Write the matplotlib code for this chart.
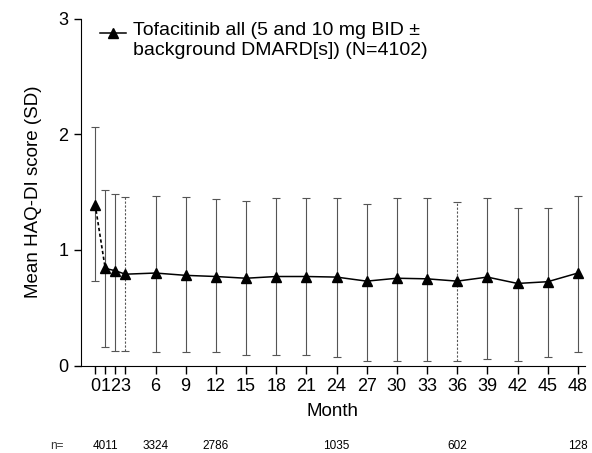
import numpy as np
import matplotlib.pyplot as plt

plt.rcParams['font.family'] = ['Liberation Sans', 'DejaVu Sans']

# HAQ-DI over time
months = [0, 1, 2, 3, 6, 9, 12, 15, 18, 21, 24, 27, 30, 33, 36, 39, 42, 45, 48]
mean_haq = [1.39, 0.84, 0.82, 0.79, 0.80, 0.78, 0.77, 0.755, 0.77, 0.77, 0.765,
            0.73, 0.755, 0.75, 0.73, 0.765, 0.71, 0.725, 0.80]
sd_low = [0.73, 0.16, 0.13, 0.13, 0.12, 0.12, 0.12, 0.09, 0.09, 0.09, 0.07,
          0.04, 0.04, 0.04, 0.04, 0.06, 0.04, 0.07, 0.12]
sd_high = [2.06, 1.52, 1.48, 1.46, 1.47, 1.46, 1.44, 1.42, 1.45, 1.45, 1.45,
           1.40, 1.45, 1.45, 1.41, 1.45, 1.36, 1.36, 1.47]
dashed_bars = [3, 36]

n_months = [1, 6, 12, 24, 36, 48]
n_values = ['4011', '3324', '2786', '1035', '602', '128']

legend_label = 'Tofacitinib all (5 and 10 mg BID \u00b1\nbackground DMARD[s]) (N=4102)'

fig = plt.figure(figsize=(5.92, 4.53), dpi=100)
ax = fig.add_axes([0.137, 0.193, 0.851, 0.766])

m = np.array(mean_haq)
yerr = [m - np.array(sd_low), np.array(sd_high) - m]
eb = ax.errorbar(months, m, yerr=yerr, fmt='none', ecolor='#555555',
                 elinewidth=0.8, capsize=3, capthick=0.8, zorder=1)
ls = [(0, (2, 1.5)) if mo in dashed_bars else 'solid' for mo in months]
eb[2][0].set_linestyles(ls)

ax.plot(months[:2], mean_haq[:2], color='black', lw=1.2, ls=(0, (2, 1.5)), zorder=2)
ax.plot(months[1:], mean_haq[1:], color='black', lw=1.1, zorder=2)
ax.plot(months, mean_haq, ls='none', marker='^', ms=7.5, color='black', zorder=3)

# legend glyph and text
ax.plot([0.038, 0.089], [0.959, 0.959], color='black', lw=1.1,
        transform=ax.transAxes)
ax.plot([0.064], [0.959], marker='^', ms=7.5, color='black',
        transform=ax.transAxes)
ax.text(0.103, 0.989, legend_label, transform=ax.transAxes, fontsize=14,
        va='top', ha='left', linespacing=1.2)

ax.set_xlim(-1.4, 48.7)
ax.set_ylim(0, 3)
ax.set_xticks(months)
ax.set_yticks([0, 1, 2, 3])
ax.tick_params(axis='both', labelsize=13, direction='out', width=1, colors='black')
ax.tick_params(axis='x', length=6, pad=3)
ax.tick_params(axis='y', length=5, pad=4)
ax.spines['top'].set_visible(False)
ax.spines['right'].set_visible(False)
ax.set_xlabel('Month', fontsize=13.5, labelpad=6)
ax.set_ylabel('Mean HAQ-DI score (SD)', fontsize=13.5, labelpad=12)

# numbers at risk
fig.text(50 / 592, 1 - 446 / 453, 'n=', fontsize=8.5, va='center', ha='left',
         color='#333333')
for mo, nv in zip(n_months, n_values):
    xd = ax.transData.transform((mo, 0))[0]
    xf = fig.transFigure.inverted().transform((xd, 0))[0]
    fig.text(xf, 1 - 446 / 453, nv, fontsize=8.5, va='center', ha='center')

fig.savefig('out.png', dpi=100)
